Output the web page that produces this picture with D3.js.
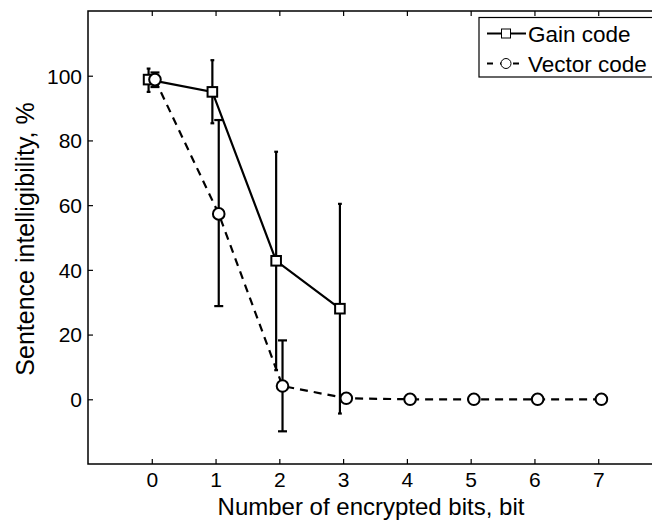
<!DOCTYPE html>
<html>
<head>
<meta charset="utf-8">
<script src="https://cdn.jsdelivr.net/npm/d3@7"></script>
<style>
  body { margin: 0; background: #fff; }
  svg { display: block; font-family: "Liberation Sans", Arial, Helvetica, sans-serif; }
</style>
</head>
<body>
<div id="chart"></div>
<script>
// number of encrypted bits
var gainBits = [0, 1, 2, 3];
var gainMean = [98.8, 95.0, 42.8, 28.0];
var gainLow  = [95.0, 85.3, 9.0, -4.4];
var gainHigh = [102.2, 104.8, 76.5, 60.4];

var vectorBits = [0, 1, 2, 3, 4, 5, 6, 7];
var vectorMean = [98.8, 57.3, 4.1, 0.3, 0, 0, 0, 0];
var vectorLow  = [96.5, 28.8, -9.9, null, null, null, null, null];
var vectorHigh = [101.0, 86.3, 18.2, null, null, null, null, null];

var xTicks = [0, 1, 2, 3, 4, 5, 6, 7];
var yTicks = [0, 20, 40, 60, 80, 100];

function createChart() {
    var W = 652, H = 521;
    var margin = { left: 88, top: 11 };
    var width = 574, height = 453;

    var svg = d3.select("#chart")
        .append("svg")
            .attr("width", W)
            .attr("height", H);

    var g = svg.append("g")
        .attr("transform", "translate(" + margin.left + "," + margin.top + ")");

    var x = d3.scaleLinear().domain([-1, 8]).range([0, width]);
    var y = d3.scaleLinear().domain([-20, 120]).range([height, 0]);

    var dodge = 0.05;

    // frame
    g.append("rect")
        .attr("width", width)
        .attr("height", height)
        .attr("fill", "none")
        .attr("stroke", "#000")
        .attr("stroke-width", 1.5);

    // ticks (inside, like matlab)
    var xAxisCall = d3.axisBottom(x).tickValues(xTicks).tickSize(-5).tickPadding(8).tickFormat(d3.format("d"));
    var xAxis = g.append("g")
        .attr("transform", "translate(0," + height + ")")
        .call(xAxisCall);
    var xAxisTop = g.append("g")
        .call(d3.axisTop(x).tickValues(xTicks).tickSize(-5).tickFormat(""));

    var yAxisCall = d3.axisLeft(y).tickValues(yTicks).tickSize(-5).tickPadding(6).tickFormat(d3.format("d"));
    var yAxis = g.append("g").call(yAxisCall);

    [xAxis, xAxisTop, yAxis].forEach(function(a) {
        a.select(".domain").remove();
        a.selectAll(".tick line").attr("stroke", "#000").attr("stroke-width", 1.2);
        a.selectAll("text")
            .style("font-size", "21px")
            .style("fill", "#000")
            .style("font-family", "'Liberation Sans', Arial, sans-serif");
    });
    yAxis.selectAll("text").attr("dy", "0.35em");

    // axis labels
    svg.append("text")
        .attr("x", 371)
        .attr("y", 515)
        .attr("text-anchor", "middle")
        .attr("font-size", "24px")
        .style("fill", "black")
        .text("Number of encrypted bits, bit");

    svg.append("text")
        .attr("transform", "translate(34,239) rotate(-90)")
        .attr("text-anchor", "middle")
        .attr("font-size", "25px")
        .style("fill", "black")
        .text("Sentence intelligibility, %");

    var gainData = gainBits.map(function(b, i) {
        return { x: b - dodge, m: gainMean[i], lo: gainLow[i], hi: gainHigh[i] };
    });
    var vectorData = vectorBits.map(function(b, i) {
        return { x: b + dodge, m: vectorMean[i], lo: vectorLow[i], hi: vectorHigh[i] };
    });

    function drawSeries(data, dash, capHalf, marker) {
        var s = g.append("g");
        var line = d3.line()
            .x(function(d) { return x(d.x); })
            .y(function(d) { return y(d.m); });

        s.append("path")
            .datum(data)
            .attr("d", line)
            .attr("fill", "none")
            .attr("stroke", "#000")
            .attr("stroke-width", 2.2)
            .attr("stroke-dasharray", dash);

        var eb = data.filter(function(d) { return d.lo != null; });
        var bars = s.selectAll(".eb").data(eb).enter().append("g")
            .attr("stroke", "#000")
            .attr("stroke-width", 2.2);
        bars.append("line")
            .attr("x1", function(d) { return x(d.x); })
            .attr("x2", function(d) { return x(d.x); })
            .attr("y1", function(d) { return y(d.lo); })
            .attr("y2", function(d) { return y(d.hi); });
        bars.append("line")
            .attr("x1", function(d) { return x(d.x) - capHalf; })
            .attr("x2", function(d) { return x(d.x) + capHalf; })
            .attr("y1", function(d) { return y(d.lo); })
            .attr("y2", function(d) { return y(d.lo); });
        bars.append("line")
            .attr("x1", function(d) { return x(d.x) - capHalf; })
            .attr("x2", function(d) { return x(d.x) + capHalf; })
            .attr("y1", function(d) { return y(d.hi); })
            .attr("y2", function(d) { return y(d.hi); });

        var pts = s.selectAll(".pt").data(data).enter();
        if (marker === "square") {
            pts.append("rect")
                .attr("x", function(d) { return x(d.x) - 4.8; })
                .attr("y", function(d) { return y(d.m) - 4.8; })
                .attr("width", 9.6)
                .attr("height", 9.6)
                .attr("fill", "#fff")
                .attr("stroke", "#000")
                .attr("stroke-width", 2);
        } else {
            pts.append("circle")
                .attr("cx", function(d) { return x(d.x); })
                .attr("cy", function(d) { return y(d.m); })
                .attr("r", 5.8)
                .attr("fill", "#fff")
                .attr("stroke", "#000")
                .attr("stroke-width", 2);
        }
    }

    drawSeries(gainData, null, 1.9, "square");
    drawSeries(vectorData, "8,6", 4.5, "circle");

    // legend
    var lg = svg.append("g").attr("transform", "translate(479,17.5)");
    lg.append("rect")
        .attr("width", 200)
        .attr("height", 59.5)
        .attr("fill", "#fff")
        .attr("stroke", "#000")
        .attr("stroke-width", 1.2);

    var items = [
        { name: "Gain code", dash: null, marker: "square", cy: 16 },
        { name: "Vector code", dash: "6,7", marker: "circle", cy: 46 }
    ];
    items.forEach(function(it) {
        lg.append("line")
            .attr("x1", 8).attr("x2", 47)
            .attr("y1", it.cy).attr("y2", it.cy)
            .attr("stroke", "#000")
            .attr("stroke-width", 2)
            .attr("stroke-dasharray", it.dash);
        if (it.marker === "square") {
            lg.append("rect")
                .attr("x", 22.5).attr("y", it.cy - 4.5)
                .attr("width", 9).attr("height", 9)
                .attr("fill", "#fff").attr("stroke", "#000").attr("stroke-width", 1);
        } else {
            lg.append("circle")
                .attr("cx", 27).attr("cy", it.cy).attr("r", 5)
                .attr("fill", "#fff").attr("stroke", "#000").attr("stroke-width", 1);
        }
        lg.append("text")
            .attr("x", 49)
            .attr("y", it.cy + 8)
            .attr("font-size", "22.5px")
            .style("fill", "#000")
            .text(it.name);
    });
}

createChart();
</script>
</body>
</html>
